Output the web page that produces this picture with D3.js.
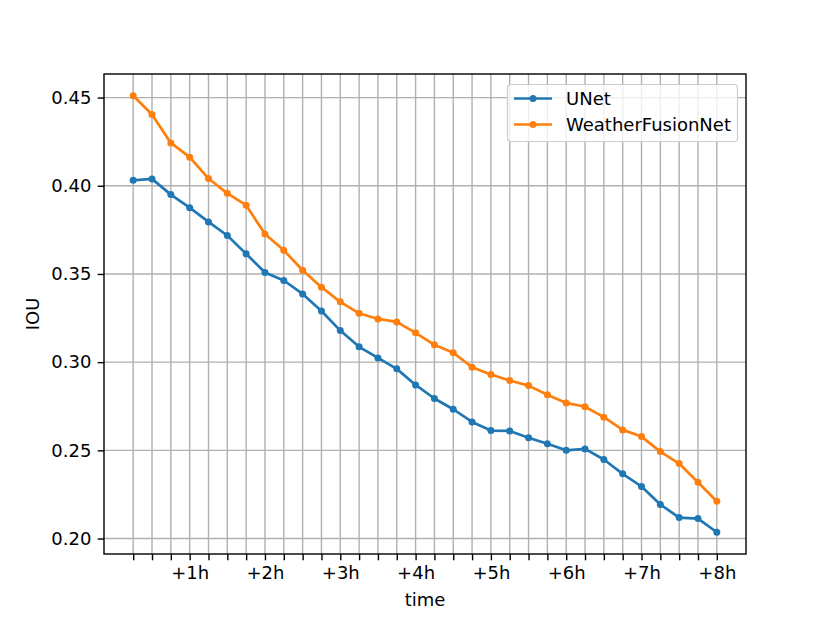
<!DOCTYPE html>
<html><head><meta charset="utf-8">
<script src="https://cdn.jsdelivr.net/npm/d3@7/dist/d3.min.js"></script>
<style>body{margin:0;background:#fff}svg{display:block}text{font-family:"DejaVu Sans",sans-serif}</style>
</head><body><div id="chart"></div>
<script>
const steps = d3.range(32); // 15-minute steps, index 0 = +15min
const tickLabels = ["+1h","+2h","+3h","+4h","+5h","+6h","+7h","+8h"];
const labeledIdx = [3,7,11,15,19,23,27,31];
const yTicks = [0.20,0.25,0.30,0.35,0.40,0.45];
const unet = [0.4031,0.4039,0.3950,0.3876,0.3795,0.3718,0.3614,0.3508,0.3463,0.3387,0.3290,0.3179,0.3087,0.3024,0.2962,0.2871,0.2794,0.2733,0.2661,0.2612,0.2610,0.2571,0.2537,0.2500,0.2508,0.2448,0.2367,0.2295,0.2193,0.2119,0.2113,0.2036];
const wfn = [0.4510,0.4404,0.4243,0.4162,0.4041,0.3957,0.3890,0.3727,0.3634,0.3521,0.3425,0.3342,0.3277,0.3245,0.3228,0.3166,0.3098,0.3054,0.2971,0.2930,0.2896,0.2867,0.2815,0.2769,0.2747,0.2688,0.2616,0.2578,0.2493,0.2425,0.2319,0.2211];
const series = [{name:"UNet",values:unet,color:"#1f77b4"},{name:"WeatherFusionNet",values:wfn,color:"#ff7f0e"}];

const W=830,H=623;
const L=104,R=746,T=74,B=554;
const svg=d3.select("#chart").append("svg").attr("width",W).attr("height",H);

const allV=unet.concat(wfn);
const vmin=d3.min(allV),vmax=d3.max(allV),pad=(vmax-vmin)*0.05;
const x=d3.scaleLinear().domain([-31*0.05,31*1.05]).range([L,R]);
const y=d3.scaleLinear().domain([vmin-pad,vmax+pad]).range([B,T]);

const fs=18;
// grid
const g=svg.append("g");
g.selectAll(".vg").data(steps).join("line").attr("x1",d=>x(d)).attr("x2",d=>x(d)).attr("y1",T).attr("y2",B).attr("stroke","#b0b0b0").attr("stroke-width",1.4);
g.selectAll(".hg").data(yTicks).join("line").attr("x1",L).attr("x2",R).attr("y1",d=>y(d)).attr("y2",d=>y(d)).attr("stroke","#b0b0b0").attr("stroke-width",1.4);

// x axis
const xAxis=d3.axisBottom(x).tickValues(steps).tickSize(6.3).tickPadding(6.3)
  .tickFormat(d=>{const i=labeledIdx.indexOf(d);return i>=0?tickLabels[i]:"";});
const xa=svg.append("g").attr("transform",`translate(0,${B})`).call(xAxis);
xa.select(".domain").remove();
xa.selectAll("line").attr("stroke","#000").attr("stroke-width",1.4);
xa.selectAll("text").attr("font-size",fs).attr("fill","#000").attr("font-family","DejaVu Sans");

const yAxis=d3.axisLeft(y).tickValues(yTicks).tickSize(6.3).tickPadding(6.3).tickFormat(d3.format(".2f"));
const ya=svg.append("g").attr("transform",`translate(${L},0)`).call(yAxis);
ya.select(".domain").remove();
ya.selectAll("line").attr("stroke","#000").attr("stroke-width",1.4);
ya.selectAll("text").attr("font-size",fs).attr("fill","#000").attr("font-family","DejaVu Sans");

// lines
const line=d3.line().x((d,i)=>x(i)).y(d=>y(d));
series.forEach(s=>{
  svg.append("path").datum(s.values).attr("d",line).attr("fill","none").attr("stroke",s.color).attr("stroke-width",2.7).attr("stroke-linejoin","round").attr("stroke-linecap","square");
  svg.append("g").selectAll("circle").data(s.values).join("circle").attr("cx",(d,i)=>x(i)).attr("cy",d=>y(d)).attr("r",3.5).attr("fill",s.color);
});

// frame
svg.append("rect").attr("x",L).attr("y",T).attr("width",R-L).attr("height",B-T).attr("fill","none").attr("stroke","#000").attr("stroke-width",1.4);

// labels
svg.append("text").attr("x",(L+R)/2).attr("y",606).attr("text-anchor","middle").attr("font-size",fs).text("time");
svg.append("text").attr("transform",`translate(39,${(T+B)/2}) rotate(-90)`).attr("text-anchor","middle").attr("font-size",fs).text("IOU");

// legend
const lg=svg.append("g");
lg.append("rect").attr("x",507.5).attr("y",84.5).attr("width",230).attr("height",57).attr("rx",3.5).attr("fill","#fff").attr("fill-opacity",0.8).attr("stroke","#cccccc").attr("stroke-width",1.2);
series.forEach((s,i)=>{
  const yy=98.5+i*26;
  lg.append("line").attr("x1",514).attr("x2",552).attr("y1",yy).attr("y2",yy).attr("stroke",s.color).attr("stroke-width",2.7);
  lg.append("circle").attr("cx",533).attr("cy",yy).attr("r",3.5).attr("fill",s.color);
  lg.append("text").attr("x",566).attr("y",yy).attr("dy","0.36em").attr("font-size",fs).text(s.name);
});
</script></body></html>
